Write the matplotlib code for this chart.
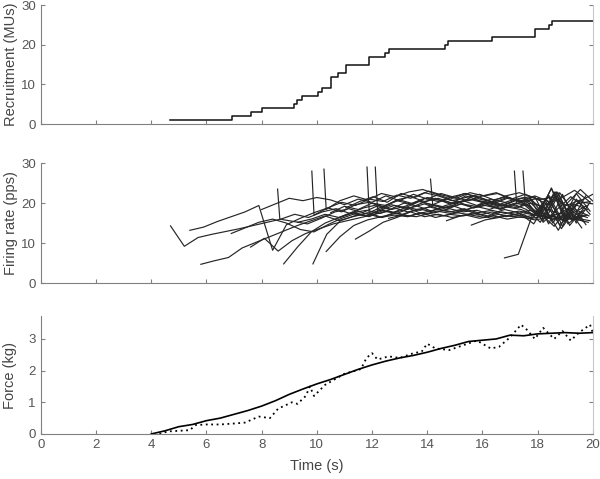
import numpy as np
import matplotlib
matplotlib.use("Agg")
import matplotlib.pyplot as plt

plt.rcParams['font.family'] = ['Liberation Sans', 'DejaVu Sans']

# -------------------------------
# 1. DATA
# -------------------------------

# recruitment time of each motor unit (s)
recruit_times = [4.67, 6.93, 7.63, 8.0, 9.17, 9.3, 9.47, 10.03, 10.2, 10.5,
                 10.5, 10.5, 10.75, 11.05, 11.05, 11.89, 11.89, 12.47, 12.63,
                 14.63, 14.74, 16.34, 17.9, 17.9, 18.4, 18.52]

# firing rate traces: start time, optional onset doublet peak, rates every dt
dt = 0.5
fr_start = [4.7, 5.8, 5.4, 6.9, 7.6, 8.0, 8.66, 8.8, 9.3, 9.86, 9.9, 10.34, 10.34,
            10.5, 10.75, 11.05, 11.4, 11.9, 12.2, 12.6, 14.2, 14.7, 15.6, 16.8,
            17.24, 17.55]
fr_peak = [None, None, None, None, None, None, 23.5, None, None, None, 28.0, 28.5,
           None, None, None, None, None, 29.0, 29.0, None, 26.0, None, None, None,
           28.0, 28.0]
fr_values = [
    [14.3, 9.2, 11.4, 12.2, 12.9, 13.6, 14.4, 15.2, 16.0, 17.2, 16.4, 17.8, 18.6, 17.4, 18.8,
     19.6, 18.4, 19.2, 20.6, 19.4, 18.8, 20.2, 21.0, 19.6, 18.6, 20.0, 19.2, 16.6, 21.8, 16.4, 18.2],
    [4.7, 5.6, 6.4, 8.8, 10.2, 11.6, 13.0, 14.4, 15.6, 16.8, 15.6, 16.6, 17.4, 16.4, 17.0,
     16.6, 17.6, 16.4, 17.2, 16.8, 17.4, 16.2, 16.9, 16.5, 16.2, 16.8, 16.4, 16.0, 17.0],
    [13.2, 14.0, 15.4, 16.6, 17.8, 19.4, 8.2, 14.6, 16.2, 17.6, 18.8, 17.8, 19.6, 20.2, 19.0,
     20.8, 21.6, 20.4, 21.2, 20.0, 21.8, 20.6, 19.8, 21.2, 20.4, 21.6, 14.8, 22.2, 15.0, 20.2],
    [12.4, 13.8, 15.2, 16.0, 15.0, 13.4, 12.8, 14.6, 16.2, 17.4, 16.6, 18.2, 17.4, 18.8,
     19.8, 18.6, 19.4, 18.2, 19.6, 20.4, 19.0, 18.4, 17.0, 21.6, 14.2, 21.0, 17.2],
    [9.0, 11.2, 8.0, 10.6, 12.4, 13.6, 14.8, 15.6, 16.4, 17.2, 18.0, 17.2, 18.4, 19.0,
     18.2, 17.6, 18.8, 19.4, 18.6, 19.8, 18.4, 15.2, 22.8, 14.8, 17.6],
    [18.4, 19.8, 21.2, 20.6, 21.4, 20.8, 19.6, 21.0, 20.2, 21.8, 20.6, 22.2, 21.0, 22.4,
     21.4, 20.6, 21.8, 22.6, 21.2, 20.4, 16.6, 23.8, 15.4, 20.4, 22.2],
    [16.0, 15.4, 14.8, 16.2, 17.8, 18.6, 17.6, 19.2, 18.4, 20.0, 19.2, 18.0, 19.4, 20.2,
     18.8, 19.6, 18.4, 19.8, 20.6, 17.4, 22.8, 14.4, 18.6],
    [4.8, 9.0, 12.8, 15.0, 16.4, 17.8, 16.8, 18.2, 19.4, 18.6, 20.0, 21.2, 19.8, 20.6,
     19.4, 21.0, 20.2, 19.0, 20.8, 16.2, 22.6, 17.6, 19.4],
    [15.2, 16.0, 17.2, 16.4, 17.6, 18.2, 17.4, 18.8, 17.8, 18.4, 17.6, 18.6, 17.8, 18.2,
     17.2, 18.4, 17.6, 16.2, 19.8, 14.6, 17.6, 16.4],
    [4.8, 12.2, 15.6, 16.8, 17.6, 16.4, 17.8, 18.6, 17.2, 18.0, 17.4, 18.4, 17.0, 17.8,
     16.6, 17.4, 14.8, 20.6, 13.6, 18.4, 16.8],
    [17.0, 18.8, 20.2, 19.4, 21.0, 20.4, 22.0, 21.2, 22.6, 21.8, 20.6, 21.4, 22.2, 20.8,
     21.6, 20.2, 17.4, 22.0, 15.6, 19.8, 20.4],
    [18.4, 20.6, 21.8, 20.8, 22.4, 21.6, 22.8, 23.4, 22.2, 21.0, 22.4, 21.6, 20.4, 21.8,
     22.6, 21.4, 19.8, 21.2, 23.2, 20.6],
    [7.9, 11.6, 14.4, 15.8, 16.6, 17.4, 16.8, 17.6, 18.4, 17.8, 18.6, 17.6, 18.2, 17.4,
     18.0, 17.2, 16.6, 17.4, 16.0, 15.2],
    [17.6, 19.2, 18.4, 20.0, 19.4, 20.8, 19.8, 21.4, 20.6, 19.8, 21.0, 20.2, 19.4, 20.6,
     21.4, 17.0, 23.6, 16.2, 20.4, 19.8],
    [16.2, 17.4, 16.8, 18.2, 17.6, 19.0, 18.2, 19.6, 18.8, 19.8, 19.2, 18.4, 19.6, 18.8,
     20.0, 19.0, 13.2, 19.8, 14.6],
    [18.8, 20.4, 21.6, 20.2, 22.4, 21.4, 23.0, 22.0, 21.2, 22.6, 21.8, 22.4, 21.0, 22.2,
     20.8, 21.6, 19.4, 20.8],
    [11.0, 13.0, 15.2, 16.4, 17.8, 16.6, 17.2, 16.4, 17.0, 16.2, 16.8, 16.0, 16.6, 15.8,
     16.4, 15.8, 16.2, 15.6],
    [17.6, 19.2, 20.6, 19.8, 21.2, 20.4, 21.6, 22.4, 21.0, 20.2, 21.4, 20.6, 21.8, 20.4,
     15.8, 22.4, 18.0],
    [18.2, 19.6, 18.8, 20.4, 19.6, 21.0, 20.2, 21.8, 20.6, 19.4, 20.8, 21.6, 15.2, 18.4,
     21.6, 19.0],
    [16.2, 17.0, 16.6, 17.4, 16.8, 17.6, 17.0, 16.4, 17.2, 16.6, 17.4, 16.8, 15.8, 17.0,
     16.2],
    [19.6, 18.4, 19.8, 18.8, 20.2, 19.2, 20.6, 19.4, 15.6, 22.8, 16.2, 17.0],
    [15.6, 16.8, 17.6, 16.8, 17.8, 17.2, 18.2, 17.4, 16.4, 17.6, 15.2],
    [14.5, 15.8, 16.4, 17.2, 16.6, 17.4, 14.2, 18.6, 13.8],
    [6.3, 7.2, 16.8, 18.6, 17.2, 19.8, 18.4],
    [19.8, 20.8, 18.4, 22.6, 15.6, 21.8],
    [20.6, 21.2, 15.0, 19.8, 23.4, 20.2],
]

# force (kg): measured (solid) and estimated (dotted)
force_t = [4.0, 4.5, 5.0, 5.5, 6.0, 6.5, 7.0, 7.5, 8.0, 8.5, 9.0, 9.5, 10.0, 10.5,
           11.0, 11.5, 12.0, 12.5, 13.0, 13.5, 14.0, 14.5, 15.0, 15.5, 16.0, 16.5,
           17.0, 17.5, 18.0, 18.5, 19.0, 19.5, 20.0]
force_meas = [0.0, 0.1, 0.23, 0.3, 0.42, 0.5, 0.62, 0.74, 0.88, 1.05, 1.25, 1.42, 1.58,
              1.72, 1.88, 2.04, 2.18, 2.3, 2.4, 2.48, 2.58, 2.7, 2.8, 2.92, 2.96, 3.0,
              3.12, 3.1, 3.16, 3.18, 3.2, 3.18, 3.2]
est_t = [4.3, 4.6, 5.0, 5.4, 5.6, 6.0, 6.5, 7.0, 7.4, 7.9, 8.3, 8.6, 9.1, 9.3, 9.6,
         9.75, 9.9, 10.3, 11.0, 11.6, 11.8, 12.0, 12.2, 12.6, 13.0, 13.5, 13.8, 14.0,
         14.3, 14.8, 15.3, 15.8, 16.3, 16.6, 17.0, 17.4, 17.6, 17.9, 18.2, 18.6, 18.9,
         19.2, 19.5, 19.9, 20.0]
force_est = [0.0, 0.08, 0.1, 0.12, 0.28, 0.3, 0.3, 0.33, 0.36, 0.55, 0.5, 0.8, 1.0,
             0.95, 1.2, 1.5, 1.2, 1.55, 1.9, 2.05, 2.4, 2.55, 2.35, 2.45, 2.4, 2.55,
             2.6, 2.85, 2.7, 2.65, 2.8, 2.95, 2.7, 2.75, 3.05, 3.45, 3.3, 3.0, 3.35,
             3.0, 3.25, 2.95, 3.2, 3.45, 3.2]

# -------------------------------
# 2. FIGURE
# -------------------------------

fig = plt.figure(figsize=(6, 4.79), dpi=100)
x0, w = 0.068, 0.92
ax1 = fig.add_axes([x0, 0.741, w, 0.248])
ax2 = fig.add_axes([x0, 0.409, w, 0.2505])
ax3 = fig.add_axes([x0, 0.094, w, 0.246])

spine_col = '#808080'
for ax in (ax1, ax2, ax3):
    ax.set_xlim(0, 20)
    ax.set_xticks(range(0, 21, 2))
    ax.spines['top'].set_visible(False)
    for s in ('left', 'bottom'):
        ax.spines[s].set_color(spine_col)
    ax.spines['right'].set_color('#c8c8c8')
    ax.tick_params(direction='in', length=3, width=0.8, colors=spine_col,
                   labelcolor='#555555', labelsize=9.5, right=True)
    ax.yaxis.label.set_color('#444444')

# recruitment
times = np.sort(recruit_times)
counts = np.arange(1, len(times) + 1)
ax1.step(np.append(times, 20), np.append(counts, counts[-1]), where='post',
         color='#111111', lw=1.1)
ax1.set_ylim(0, 30)
ax1.set_yticks([0, 10, 20, 30])
ax1.tick_params(labelbottom=False)
ax1.set_ylabel('Recruitment (MUs)', fontsize=10.5, labelpad=2)

# firing rates
for t0, pk, vals in zip(fr_start, fr_peak, fr_values):
    t = t0 + dt * np.arange(len(vals))
    v = np.array(vals)
    if pk is not None:
        t = np.insert(t, 0, t0 - 0.08)
        v = np.insert(v, 0, pk)
    ax2.plot(t, v, color='#262626', lw=0.85)
ax2.set_ylim(0, 30)
ax2.set_yticks([0, 10, 20, 30])
ax2.tick_params(labelbottom=False)
ax2.set_ylabel('Firing rate (pps)', fontsize=10.5, labelpad=2)

# force
ax3.plot(force_t, force_meas, color='black', lw=1.2)
ax3.plot(est_t, force_est, color='black', lw=1.3, ls=(0, (1, 2)))
ax3.set_ylim(0, 3.72)
ax3.set_yticks([0, 1, 2, 3])
ax3.set_ylabel('Force (kg)', fontsize=10.5, labelpad=8)
ax3.set_xlabel('Time (s)', fontsize=10.5, color='#444444', labelpad=6)

fig.savefig('out.png', dpi=100)
